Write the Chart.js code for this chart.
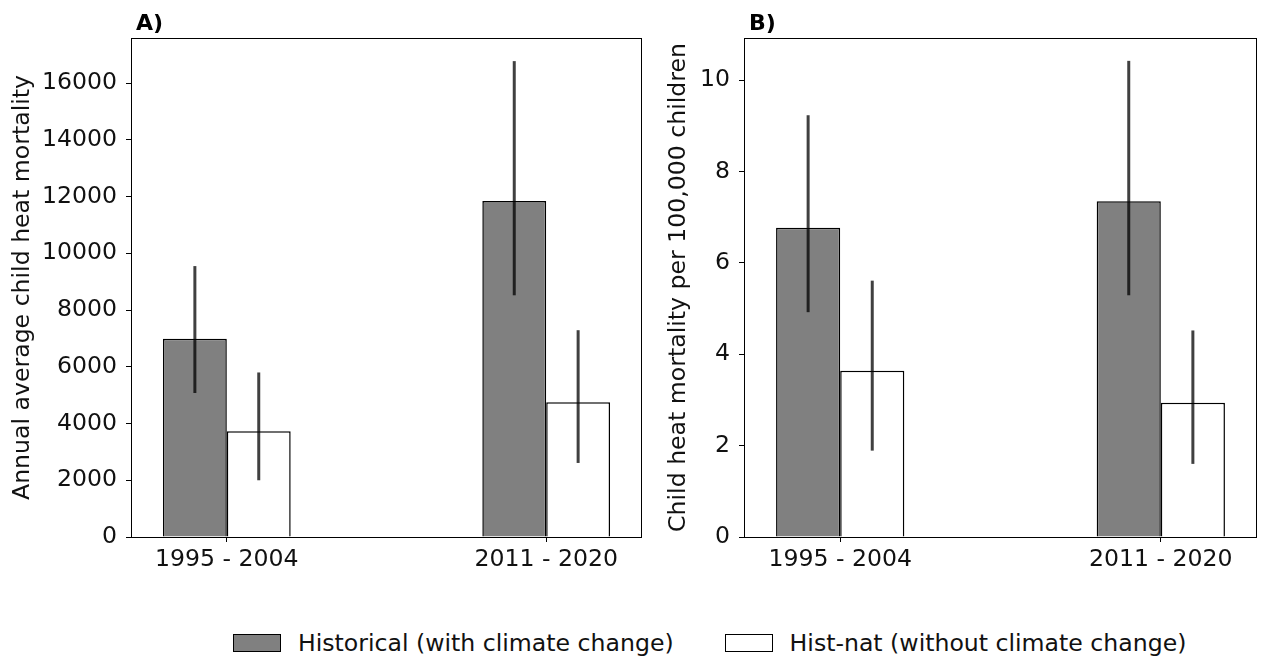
<!DOCTYPE html>
<html>
<head>
<meta charset="utf-8" />
<style>
  html, body { margin: 0; padding: 0; background: #fff; }
  body { width: 1265px; height: 657px; position: relative; overflow: hidden; font-family: 'DejaVu Sans', sans-serif; }
  #ca { position: absolute; left: 0; top: 0; }
  #cb { position: absolute; left: 614px; top: 0; }
  #legend { position: absolute; left: 233px; top: 629px; display: flex; align-items: center; font-size: 23.6px; color: #111; white-space: nowrap; }
  .item { display: flex; align-items: center; margin-right: 51px; }
  .swatch { width: 46px; height: 16px; border: 1px solid #000; margin-right: 17px; }
</style>
</head>
<body>
<canvas id="ca" width="660" height="600"></canvas>
<canvas id="cb" width="651" height="600"></canvas>
<div id="legend"></div>
<script src="https://cdn.jsdelivr.net/npm/chart.js@4.4.3/dist/chart.umd.min.js"></script>
<script>
// categories and series
const periods = ['1995 - 2004', '2011 - 2020'];
const seriesNames = ['Historical (with climate change)', 'Hist-nat (without climate change)'];
const seriesColors = ['#808080', '#ffffff'];

// panel A: annual average child heat mortality
const deathsTicks = [0, 2000, 4000, 6000, 8000, 10000, 12000, 14000, 16000];
const deathsHist = [6990, 11840];
const deathsHistLow = [5075, 8520];
const deathsHistHigh = [9550, 16775];
const deathsNat = [3725, 4750];
const deathsNatLow = [2000, 2610];
const deathsNatHigh = [5800, 7290];

// panel B: per 100,000 children
const rateTicks = [0, 2, 4, 6, 8, 10];
const rateHist = [6.77, 7.35];
const rateHistLow = [4.92, 5.29];
const rateHistHigh = [9.23, 10.42];
const rateNat = [3.64, 2.94];
const rateNatLow = [1.89, 1.60];
const rateNatHigh = [5.61, 4.52];

const FONT = "'DejaVu Sans', sans-serif";
const FSIZE = 23.6;
const xPos = periods.map((_, i) => i);

// error bars from the y scale
const errorBars = {
  id: 'errorBars',
  afterDatasetsDraw(chart) {
    const { ctx } = chart;
    const y = chart.scales.y;
    ctx.save();
    ctx.strokeStyle = 'rgba(0,0,0,0.75)';
    ctx.lineWidth = 3;
    chart.data.datasets.forEach((ds, i) => {
      chart.getDatasetMeta(i).data.forEach((bar, j) => {
        ctx.beginPath();
        ctx.moveTo(bar.x, y.getPixelForValue(ds.errLow[j]));
        ctx.lineTo(bar.x, y.getPixelForValue(ds.errHigh[j]));
        ctx.stroke();
      });
    });
    ctx.restore();
  }
};

// frame + panel letter
const frame = {
  id: 'frame',
  afterDraw(chart, args, opts) {
    const { ctx, chartArea: a } = chart;
    ctx.save();
    ctx.strokeStyle = '#000';
    ctx.lineWidth = 1;
    ctx.strokeRect(a.left + 0.5, a.top + 0.5, a.right - a.left - 1, a.bottom - a.top);
    ctx.fillStyle = '#000';
    ctx.font = 'bold 22px ' + FONT;
    ctx.textBaseline = 'alphabetic';
    ctx.fillText(opts.letter, a.left + 5, a.top - 8);
    ctx.restore();
  }
};

function makeChart(id, letter, yTitle, yTicks, hist, histLow, histHigh, nat, natLow, natHigh, yMax, padLeft, padRight, yWidth) {
  return new Chart(document.getElementById(id), {
    type: 'bar',
    data: {
      datasets: [
        {
          label: seriesNames[0],
          data: xPos.map((x, i) => ({ x, y: hist[i] })),
          errLow: histLow, errHigh: histHigh,
          backgroundColor: seriesColors[0],
          borderColor: '#000', borderWidth: 1.5
        },
        {
          label: seriesNames[1],
          data: xPos.map((x, i) => ({ x, y: nat[i] })),
          errLow: natLow, errHigh: natHigh,
          backgroundColor: seriesColors[1],
          borderColor: '#000', borderWidth: 1.5
        }
      ]
    },
    options: {
      responsive: false,
      animation: false,
      devicePixelRatio: 1,
      categoryPercentage: 0.4,
      barPercentage: 1.0,
      layout: { padding: { top: 38, left: padLeft, right: padRight, bottom: 0 } },
      plugins: {
        legend: { display: false },
        tooltip: { enabled: false },
        frame: { letter }
      },
      scales: {
        x: {
          type: 'linear',
          min: -0.3, max: 1.3,
          offset: false,
          grid: { drawOnChartArea: false, drawTicks: true, tickLength: 5, tickColor: '#000', offset: false },
          border: { display: false },
          afterBuildTicks: (s) => { s.ticks = xPos.map(v => ({ value: v })); },
          afterFit: (s) => { s.height = 63; },
          ticks: {
            color: '#111', padding: 4, maxRotation: 0, autoSkip: false,
            font: { family: FONT, size: FSIZE },
            callback: (v) => periods[v]
          }
        },
        y: {
          min: 0, max: yMax,
          grid: { drawOnChartArea: false, drawTicks: true, tickLength: 5, tickColor: '#000' },
          border: { display: false },
          afterBuildTicks: (s) => { s.ticks = yTicks.map(v => ({ value: v })); },
          afterFit: (s) => { s.width = yWidth; },
          ticks: {
            color: '#111', padding: 9, autoSkip: false,
            font: { family: FONT, size: FSIZE },
            callback: (v) => String(v)
          },
          title: {
            display: true, text: yTitle, color: '#111',
            font: { family: FONT, size: FSIZE },
            padding: { top: 9, bottom: 0 }
          }
        }
      }
    },
    plugins: [errorBars, frame]
  });
}

makeChart('ca', 'A)', 'Annual average child heat mortality', deathsTicks,
  deathsHist, deathsHistLow, deathsHistHigh, deathsNat, deathsNatLow, deathsNatHigh,
  17590, 0, 18, 131);
makeChart('cb', 'B)', 'Child heat mortality per 100,000 children', rateTicks,
  rateHist, rateHistLow, rateHistHigh, rateNat, rateNatLow, rateNatHigh,
  10.92, 42, 8, 88);

// legend
const legend = document.getElementById('legend');
seriesNames.forEach((name, i) => {
  const item = document.createElement('div');
  item.className = 'item';
  const sw = document.createElement('div');
  sw.className = 'swatch';
  sw.style.background = seriesColors[i];
  const txt = document.createElement('span');
  txt.textContent = name;
  item.appendChild(sw);
  item.appendChild(txt);
  legend.appendChild(item);
});
</script>
</body>
</html>
